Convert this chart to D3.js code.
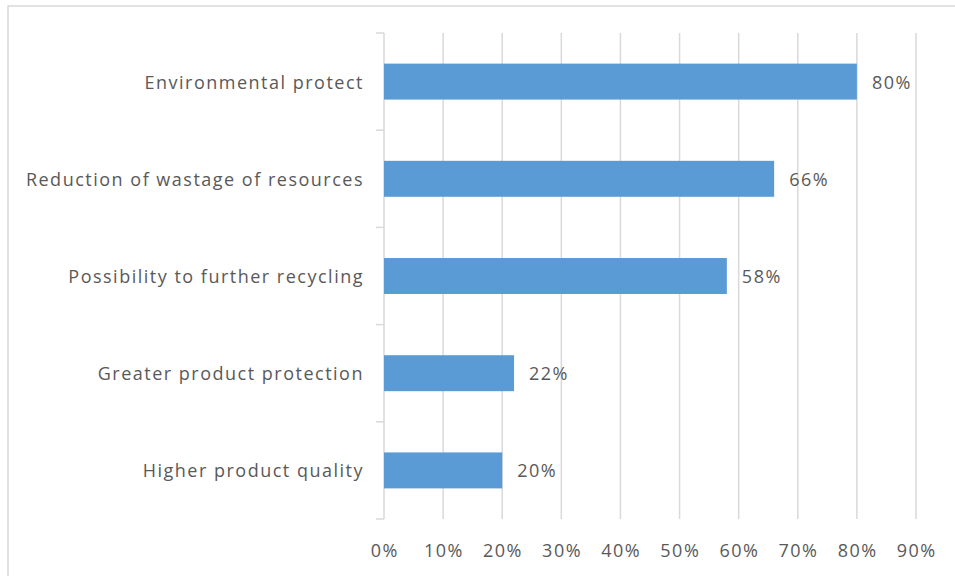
<!DOCTYPE html>
<html>
<head>
<meta charset="utf-8">
<script src="https://cdn.jsdelivr.net/npm/d3@7"></script>
<style>
  html, body { margin: 0; padding: 0; background: #fff; }
  svg { display: block; }
  text { font-family: "Open Sans", "DejaVu Sans", sans-serif; fill: #595959; letter-spacing: 1.5px; }
</style>
</head>
<body>
<svg id="chart" width="955" height="576"></svg>
<script>
const categories = [
  "Environmental protect",
  "Reduction of wastage of resources",
  "Possibility to further recycling",
  "Greater product protection",
  "Higher product quality"
];
const values = [0.80, 0.66, 0.58, 0.22, 0.20];
const valueLabels = ["80%", "66%", "58%", "22%", "20%"];
const xTicks = [0, 0.1, 0.2, 0.3, 0.4, 0.5, 0.6, 0.7, 0.8, 0.9];

const svg = d3.select("#chart");
const plot = { left: 384, right: 916, top: 33, bottom: 519 };
const grid = "#d9d9d9";
const fs = 18;

// chart border (extends past right/bottom edges like the reference)
svg.append("rect")
  .attr("x", 8).attr("y", 6)
  .attr("width", 970).attr("height", 600)
  .attr("fill", "none").attr("stroke", grid).attr("stroke-width", 1.5);

const x = d3.scaleLinear().domain([0, 0.9]).range([plot.left, plot.right]);
const y = d3.scaleBand().domain(categories).range([plot.top, plot.bottom]).paddingInner(0.63).paddingOuter(0.315);
const yb = d3.scaleBand().domain(categories).range([plot.top, plot.bottom]);

// vertical gridlines
svg.append("g").selectAll("line")
  .data(xTicks.slice(1))
  .join("line")
  .attr("x1", d => x(d)).attr("x2", d => x(d))
  .attr("y1", plot.top).attr("y2", plot.bottom)
  .attr("stroke", grid).attr("stroke-width", 1.5);

// category axis line + ticks between categories
svg.append("line")
  .attr("x1", plot.left).attr("x2", plot.left)
  .attr("y1", plot.top).attr("y2", plot.bottom)
  .attr("stroke", grid).attr("stroke-width", 1.5);
const boundaries = categories.map(c => yb(c)).concat([plot.bottom]);
svg.append("g").selectAll("line")
  .data(boundaries)
  .join("line")
  .attr("x1", plot.left - 8).attr("x2", plot.left)
  .attr("y1", d => d).attr("y2", d => d)
  .attr("stroke", grid).attr("stroke-width", 1.5);

// bars
svg.append("g").selectAll("rect")
  .data(categories)
  .join("rect")
  .attr("x", x(0))
  .attr("y", d => y(d))
  .attr("width", (d, i) => x(values[i]) - x(0))
  .attr("height", y.bandwidth())
  .attr("fill", "#5b9bd5");

// category labels
svg.append("g").selectAll("text")
  .data(categories)
  .join("text")
  .attr("x", plot.left - 20)
  .attr("y", d => y(d) + y.bandwidth() / 2)
  .attr("text-anchor", "end")
  .attr("dominant-baseline", "central")
  .attr("font-size", fs)
  .text(d => d);

// value labels
svg.append("g").selectAll("text")
  .data(categories)
  .join("text")
  .attr("x", (d, i) => x(values[i]) + 15)
  .attr("y", d => y(d) + y.bandwidth() / 2)
  .attr("dominant-baseline", "central")
  .attr("font-size", fs)
  .text((d, i) => valueLabels[i]);

// x-axis tick labels
svg.append("g").selectAll("text")
  .data(xTicks)
  .join("text")
  .attr("x", d => x(d) + 0.75)
  .attr("y", 550)
  .attr("text-anchor", "middle")
  .attr("dominant-baseline", "central")
  .attr("font-size", fs)
  .text(d => d3.format(".0%")(d));
</script>
</body>
</html>
